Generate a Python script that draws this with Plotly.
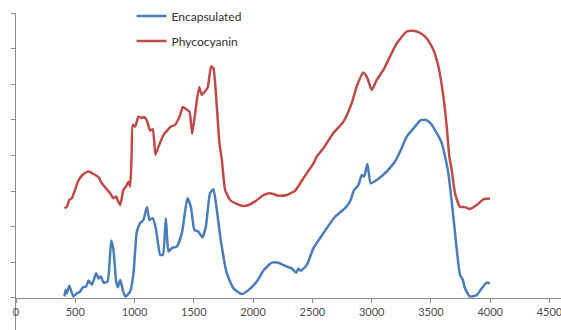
import plotly.graph_objects as go

# Phycocyanin (red)
pc_x = [409, 429, 449, 471, 527, 569, 612, 654, 696, 724, 766, 794, 822, 845, 859, 879,
        906, 935, 949, 963, 975, 985, 1005, 1033, 1061, 1081, 1104, 1131, 1154, 1176,
        1202, 1244, 1272, 1306, 1342, 1385, 1407, 1435, 1463, 1486, 1511, 1545, 1567,
        1595, 1618, 1646, 1665, 1688, 1716, 1736, 1764, 1806, 1862, 1918, 1961, 2017,
        2087, 2143, 2213, 2284, 2354, 2424, 2509, 2537, 2593, 2677, 2762, 2832, 2874,
        2930, 2964, 3001, 3043, 3099, 3155, 3212, 3296, 3352, 3408, 3464, 3520, 3563,
        3605, 3633, 3655, 3675, 3703, 3745, 3786, 3829, 3886, 3942, 3998]
pc_y = [2.52, 2.56, 2.75, 2.80, 3.30, 3.48, 3.55, 3.48, 3.39, 3.22, 3.05, 2.94, 2.80, 2.85, 2.73, 2.61,
        3.03, 3.17, 3.27, 3.13, 4.00, 4.86, 4.81, 5.09, 5.05, 5.08, 4.98, 4.70, 4.74, 4.02,
        4.25, 4.58, 4.69, 4.81, 4.86, 5.14, 5.36, 5.30, 5.23, 4.61, 5.19, 5.92, 5.70,
        5.80, 5.92, 6.50, 6.45, 5.65, 4.35, 3.88, 3.03, 2.75, 2.64, 2.58, 2.61, 2.71,
        2.89, 2.94, 2.87, 2.89, 3.01, 3.36, 3.78, 3.97, 4.20, 4.63, 4.95, 5.47, 5.94,
        6.33, 6.17, 5.84, 6.12, 6.40, 6.78, 7.15, 7.48, 7.50, 7.44, 7.29, 6.97, 6.50,
        5.65, 4.81, 3.97, 3.60, 2.94, 2.56, 2.55, 2.50, 2.61, 2.77, 2.79]

# Encapsulated (blue)
en_x = [409, 418, 429, 449, 463, 485, 513, 541, 564, 592, 612, 640, 676, 696, 716, 738,
        772, 803, 822, 845, 859, 879, 901, 923, 963, 991, 1019, 1047, 1075, 1104, 1126,
        1154, 1182, 1216, 1239, 1264, 1286, 1314, 1356, 1399, 1446, 1475, 1505, 1539,
        1573, 1601, 1637, 1665, 1694, 1727, 1778, 1834, 1905, 1961, 2031, 2087, 2158,
        2213, 2284, 2326, 2363, 2382, 2402, 2453, 2509, 2593, 2691, 2776, 2818, 2851,
        2888, 2916, 2936, 2964, 2992, 3043, 3127, 3197, 3240, 3296, 3366, 3408, 3450,
        3492, 3549, 3591, 3619, 3647, 3689, 3718, 3745, 3768, 3787, 3829, 3886, 3928,
        3970, 3998]
en_y = [0.04, 0.22, 0.13, 0.34, 0.22, 0.04, 0.13, 0.18, 0.30, 0.32, 0.49, 0.37, 0.69, 0.55, 0.60, 0.43,
        0.46, 1.61, 1.35, 0.46, 0.30, 0.51, 0.22, 0.04, 0.18, 0.69, 1.86, 2.10, 2.19, 2.55, 2.19,
        2.24, 1.91, 1.21, 1.21, 2.24, 1.30, 1.40, 1.44, 1.82, 2.80, 2.56, 1.91, 1.86,
        1.70, 2.00, 2.94, 3.05, 2.47, 1.63, 0.69, 0.27, 0.11, 0.22, 0.46, 0.77, 0.99,
        0.99, 0.88, 0.83, 0.71, 0.83, 0.76, 0.93, 1.40, 1.82, 2.28, 2.52, 2.71, 3.03,
        3.17, 3.45, 3.41, 3.76, 3.22, 3.31, 3.55, 3.83, 4.11, 4.53, 4.81, 4.98, 5.00,
        4.92, 4.63, 4.35, 3.97, 3.50, 2.28, 1.35, 0.65, 0.51, 0.27, 0.04, 0.08, 0.27,
        0.43, 0.41]

x_ticks = [0, 500, 1000, 1500, 2000, 2500, 3000, 3500, 4000, 4500]
y_ticks = [0, 1, 2, 3, 4, 5, 6, 7, 8]

AXIS = "#8C8C8C"
FONT = "Lato, Liberation Sans, sans-serif"

fig = go.Figure()
fig.add_trace(go.Scatter(x=en_x, y=en_y, mode="lines", name="Encapsulated",
                         legendgroup="a",
                         line=dict(color="#4A7EBB", width=2.5, shape="spline", smoothing=0.5)))
fig.add_trace(go.Scatter(x=pc_x, y=pc_y, mode="lines", name="Phycocyanin",
                         legendgroup="b",
                         line=dict(color="#BE4B48", width=2.5, shape="spline", smoothing=0.5)))

fig.update_layout(
    template="none",
    width=561, height=330,
    margin=dict(l=16, r=0, t=13, b=0, pad=0),
    paper_bgcolor="white", plot_bgcolor="white",
    showlegend=True,
    legend=dict(x=0.212, y=1.036, xanchor="left", yanchor="top",
                bgcolor="rgba(0,0,0,0)", borderwidth=0,
                font=dict(family=FONT, size=12, color="#303030"),
                tracegroupgap=6, itemwidth=30),
    xaxis=dict(range=[0, 4597], tickvals=x_ticks, ticktext=[str(v) for v in x_ticks],
               showgrid=False, zeroline=False, showline=True, linecolor=AXIS, linewidth=1,
               ticks="outside", ticklen=4, tickcolor=AXIS, tickwidth=1,
               anchor="free", position=0.9 / 8.9, automargin=False,
               ticklabeloverflow="allow",
               tickfont=dict(family=FONT, size=11, color="#4D4D4D")),
    yaxis=dict(range=[-0.9, 8], tickvals=y_ticks, showticklabels=False,
               showgrid=False, zeroline=False, showline=True, linecolor=AXIS, linewidth=1,
               ticks="outside", ticklen=4, tickcolor=AXIS, tickwidth=1, automargin=False),
)

fig.write_html("out.html",
               config={"displayModeBar": False},
               post_script="document.body.style.margin='0';document.body.style.overflow='hidden';")
